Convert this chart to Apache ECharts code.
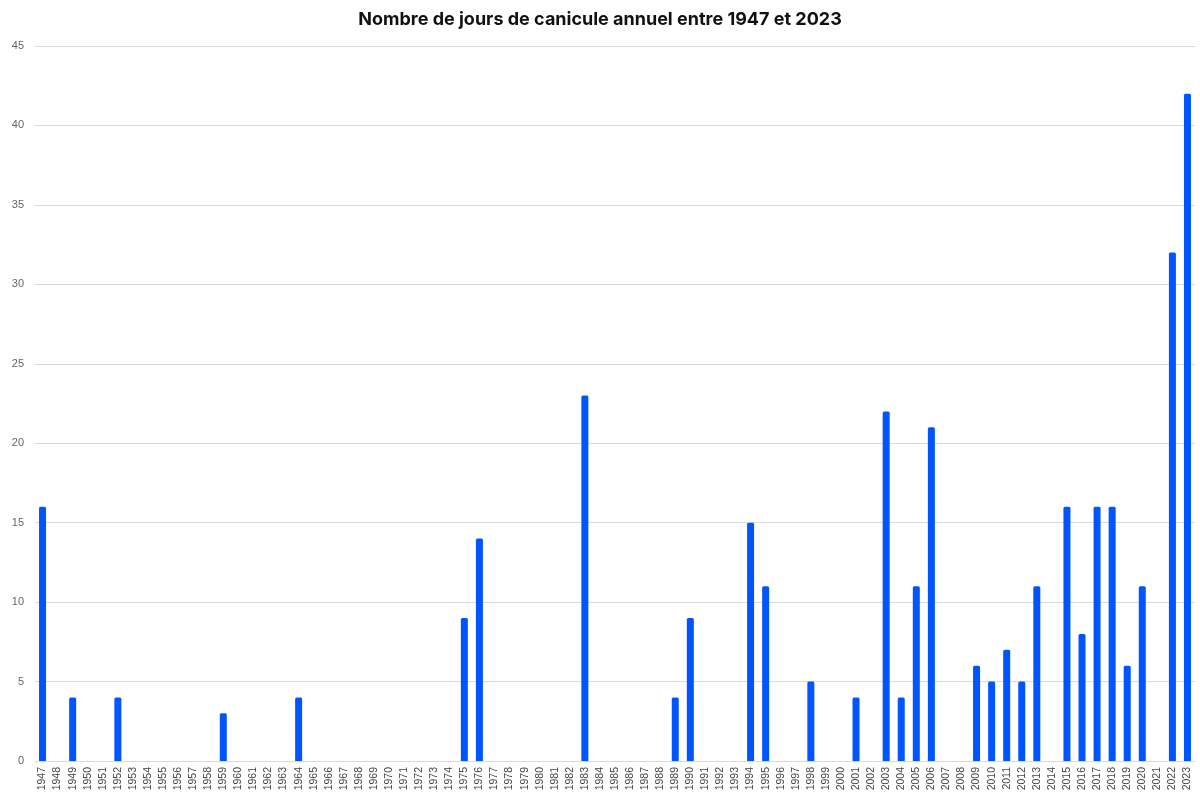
<!DOCTYPE html>
<html><head><meta charset="utf-8">
<script src="https://cdn.jsdelivr.net/npm/echarts@6/dist/echarts.min.js"></script>
<style>html,body{margin:0;padding:0;background:#fff}#c{width:1200px;height:794px}</style>
</head><body><div id="c"></div>
<script>
var years = [];
for (var y = 1947; y <= 2023; y++) years.push(String(y));
var heatYears = ['1947','1949','1952','1959','1964','1975','1976','1983','1989','1990','1994','1995','1998','2001','2003','2004','2005','2006','2009','2010','2011','2012','2013','2015','2016','2017','2018','2019','2020','2022','2023'];
var heatDays  = [16,4,4,3,4,9,14,23,4,9,15,11,5,4,22,4,11,21,6,5,7,5,11,16,8,16,16,6,11,32,42];
var yTicks = {min:0, max:45, interval:5};

var values = years.map(function(yr){ var i = heatYears.indexOf(yr); return i >= 0 ? heatDays[i] : 0; });

var chart = echarts.init(document.getElementById('c'), null, {renderer:'canvas'});
chart.setOption({
  animation:false,
  backgroundColor:'#fff',
  title:{text:'Nombre de jours de canicule annuel entre 1947 et 2023', left:'center', top:6,
    textStyle:{fontFamily:'Inter', fontWeight:'bold', fontSize:18, color:'#111'}},
  grid:{left:35, right:5, top:46, bottom:33},
  xAxis:{type:'category', data:years,
    axisLine:{lineStyle:{color:'#d9d9d9'}}, axisTick:{show:false},
    axisLabel:{rotate:90, interval:0, fontFamily:'Liberation Sans', fontSize:10.5, color:'#444', margin:6}},
  yAxis:{type:'value', min:yTicks.min, max:yTicks.max, interval:yTicks.interval,
    axisLine:{show:false}, axisTick:{show:false},
    splitLine:{lineStyle:{color:'#d9d9d9'}},
    axisLabel:{fontFamily:'Liberation Sans', fontSize:11, color:'#666', margin:11}},
  series:[{type:'bar', data:values, barWidth:7,
    itemStyle:{color:'#0055ff', borderRadius:[1.5,1.5,0,0]}}]
});
</script></body></html>
